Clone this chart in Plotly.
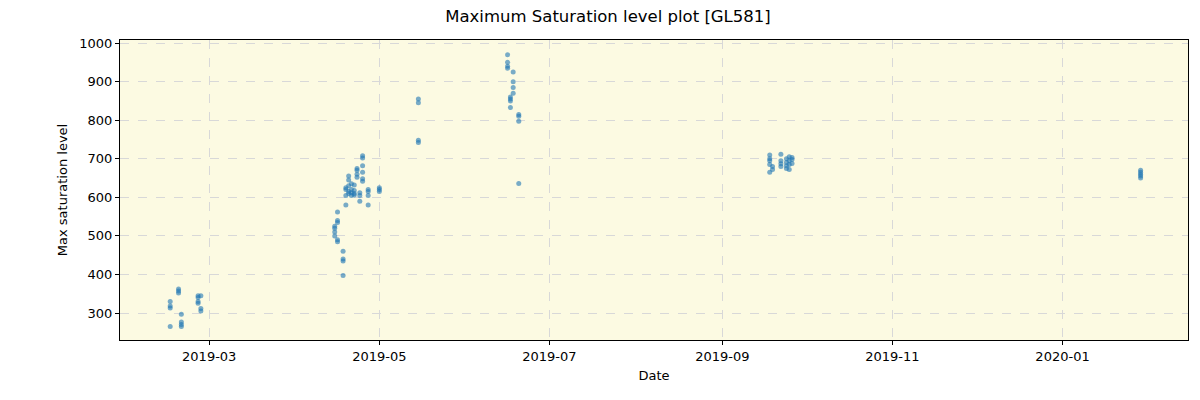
import plotly.graph_objects as go

dates = (
    ["2019-02-15"] * 4 + ["2019-02-18"] * 3 + ["2019-02-19"] * 4 + ["2019-02-25"] * 4 + ["2019-02-26"] * 3
    + ["2019-04-15"] * 4 + ["2019-04-16"] * 5 + ["2019-04-18"] * 4 + ["2019-04-19"] * 4
    + ["2019-04-20"] * 5 + ["2019-04-21"] * 4 + ["2019-04-22"] * 4 + ["2019-04-23"] * 4
    + ["2019-04-24"] * 3 + ["2019-04-25"] * 6 + ["2019-04-27"] * 4 + ["2019-05-01"] * 3
    + ["2019-05-15"] * 4
    + ["2019-06-16"] * 4 + ["2019-06-17"] * 4 + ["2019-06-18"] * 4 + ["2019-06-20"] * 4
    + ["2019-09-18"] * 5 + ["2019-09-19"] * 2 + ["2019-09-22"] * 4
    + ["2019-09-24"] * 4 + ["2019-09-25"] * 4 + ["2019-09-26"] * 3
    + ["2020-01-29"] * 5
)
values = [
    330, 318, 313, 265,
    362, 357, 352,
    297, 277, 270, 265,
    345, 340, 330, 325,
    345, 312, 305,
    525, 520, 510, 500,
    540, 535, 562, 490, 485,
    460, 440, 435, 397,
    580, 605, 620, 625,
    655, 645, 630, 615, 610,
    635, 620, 612, 605,
    632, 618, 610, 606,
    675, 670, 660, 652,
    612, 605, 590,
    708, 702, 682, 665, 648, 642,
    620, 615, 605, 580,
    625, 620, 615,
    855, 845, 748, 742,
    970, 950, 940, 935,
    860, 855, 850, 833,
    925, 900, 885, 870,
    815, 810, 797, 636,
    710, 700, 695, 685, 665,
    680, 672,
    712, 695, 687, 680,
    700, 690, 682, 675,
    695, 685, 672, 705,
    703, 698, 688,
    670, 665, 660, 655, 650,
]

tick_vals = ["2019-03-01", "2019-05-01", "2019-07-01", "2019-09-01", "2019-11-01", "2020-01-01"]
tick_text = ["2019-03", "2019-05", "2019-07", "2019-09", "2019-11", "2020-01"]
y_ticks = [300, 400, 500, 600, 700, 800, 900, 1000]

fig = go.Figure()
fig.add_trace(go.Scatter(
    x=dates, y=values, mode="markers",
    marker=dict(size=5, color="rgba(31,119,180,0.6)", line=dict(width=0)),
    showlegend=False,
))

axis_common = dict(
    showline=True, linecolor="black", linewidth=1, mirror=True,
    ticks="outside", ticklen=4, tickcolor="black",
    showgrid=True, gridcolor="#d8d8d8", griddash="dash", gridwidth=1,
    tickfont=dict(family="DejaVu Sans", size=13, color="black"),
    zeroline=False, automargin=False,
)

fig.update_layout(
    width=1200, height=400,
    margin=dict(l=112, r=20, t=32, b=68),
    paper_bgcolor="white",
    plot_bgcolor="#FCFAE2",
    title=dict(text="Maximum Saturation level plot [GL581]", x=0.5, xanchor="center",
               y=0.98, yanchor="middle",
               font=dict(family="DejaVu Sans", size=16.5, color="black")),
    xaxis=dict(range=["2019-01-28", "2020-02-15"], tickvals=tick_vals, ticktext=tick_text,
               title=dict(text="Date", font=dict(family="DejaVu Sans", size=13, color="black"), standoff=8),
               **axis_common),
    yaxis=dict(range=[230, 1008], tickvals=y_ticks,
               title=dict(text="Max saturation level", font=dict(family="DejaVu Sans", size=13, color="black"), standoff=8),
               **axis_common),
)

fig.write_html("out.html")
